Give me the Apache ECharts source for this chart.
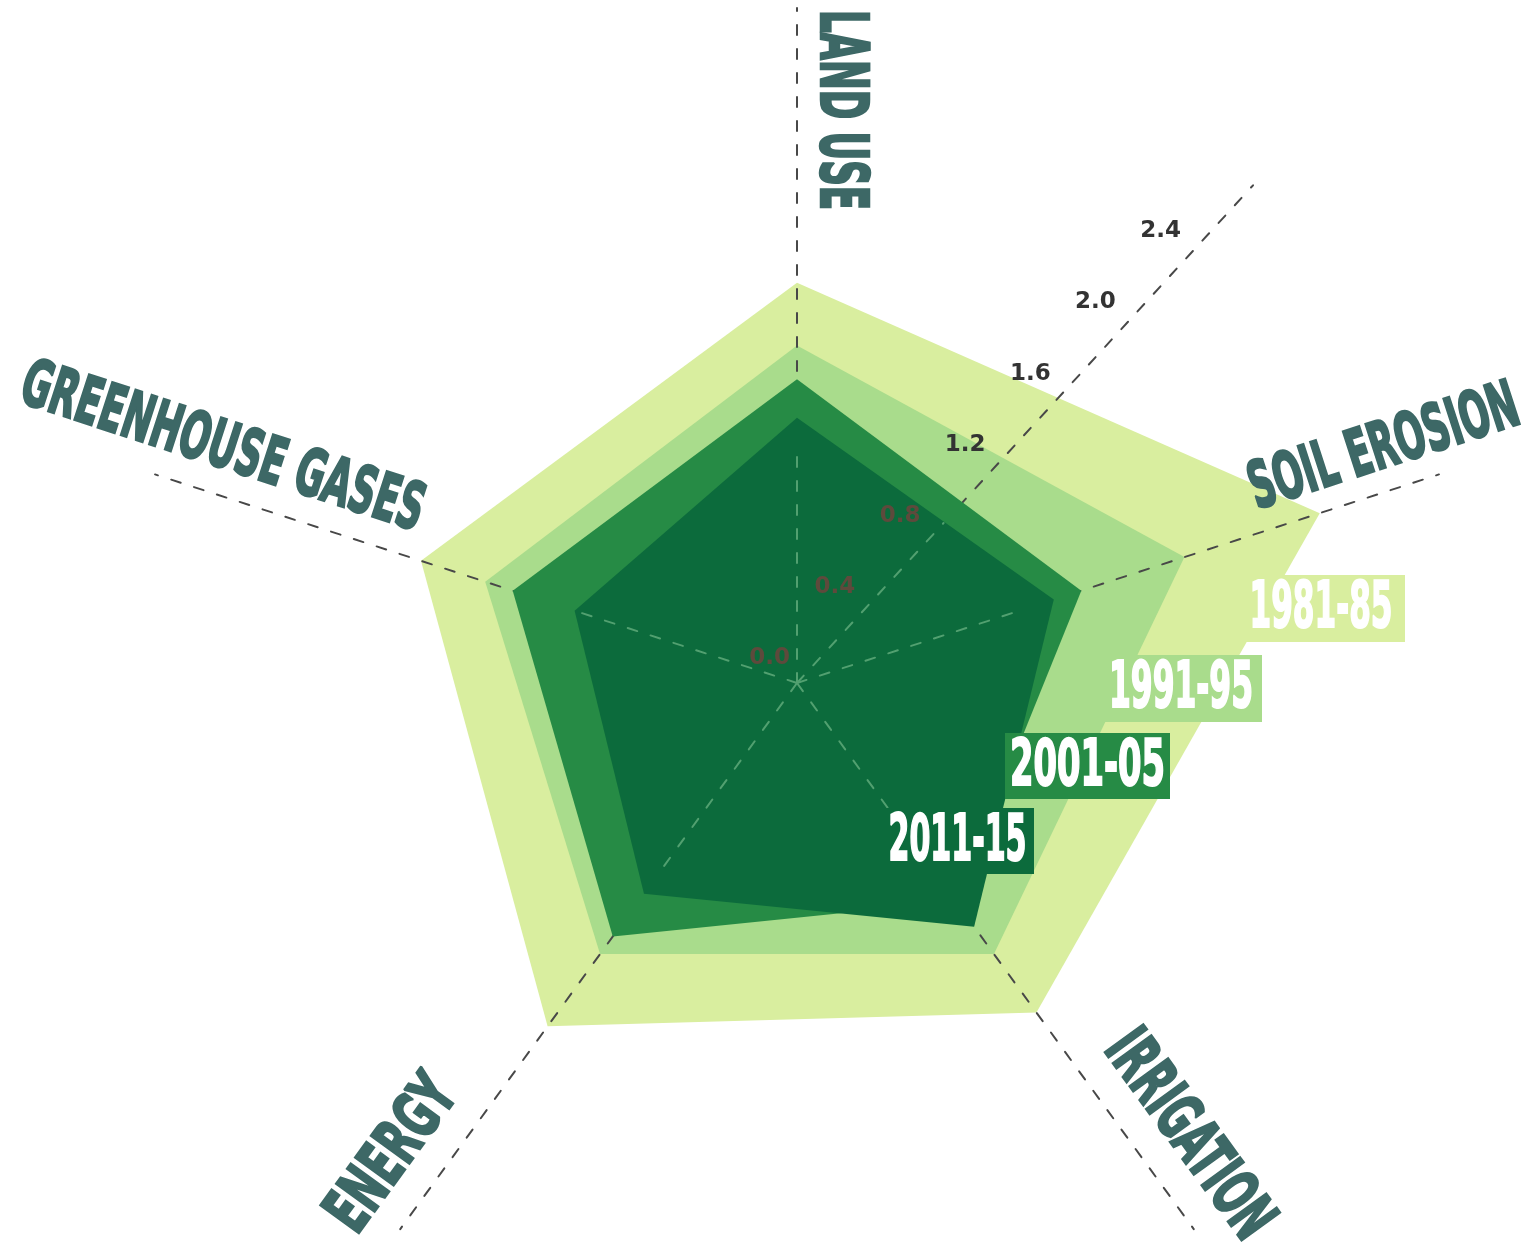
<!DOCTYPE html>
<html><head><meta charset="utf-8">
<script src="https://cdn.jsdelivr.net/npm/echarts/dist/echarts.min.js"></script>
<style>html,body{margin:0;padding:0;background:#fff}#c{width:1522px;height:1249px}</style>
</head><body><div id="c"></div>
<script>
// ---------- data ----------
const categories = ['LAND USE', 'GREENHOUSE GASES', 'ENERGY', 'IRRIGATION', 'SOIL EROSION'];
const periods = ['1981-85', '1991-95', '2001-05', '2011-15'];
const v1981 = [1.66, 1.64, 1.76, 1.69, 2.28];
const v1991 = [1.40, 1.36, 1.39, 1.39, 1.69];
const v2001 = [1.26, 1.24, 1.30, 1.12, 1.24];
const v2011 = [1.10, 0.97, 1.08, 1.25, 1.12];
const scaleTicks = ['0.0', '0.4', '0.8', '1.2', '1.6', '2.0', '2.4'];
const scaleMax = 2.8;

// ---------- layout / style ----------
const CX = 797, CY = 683, R = 675;
const colors = ['#d9ee9f', '#a9dc8c', '#268b45', '#0c6b3c'];
const seriesZ = [1, 2, 4, 5];
const INNER_RADAR = 0.95, INNER_POLAR = 0.9;
const NAME_FONT_FAMILY = "'Liberation Sans Narrow','DejaVu Sans Condensed','DejaVu Sans',sans-serif";
const nameAlong = [573, 619, 619, 596, 631];
const namePerp = [-41, -44, -48, 49, 40];
const nameRot = [-90, -18, 54, -54, 18];
const nameLen = [200, 420, 175, 240, 280];
const nameCap = 47;
const legendBoxes = [[1237, 575, 168, 67], [1100, 655, 162, 67], [1005, 733, 165, 66], [881, 808, 153, 66]];
const legendTextW = [143, 144, 155, 138];
const legendCap = 46;

const mctx = document.createElement('canvas').getContext('2d');
function measure(text, font) { mctx.font = font; return mctx.measureText(text).width; }

const dash = { color: '#484848', width: 2, type: [10, 14] };
const lightDash = { color: '#52a070', width: 2, type: [10, 14] };

const indicatorsOuter = categories.map(n => ({ name: n, min: 0, max: scaleMax }));
const indicatorsInner = categories.map(n => ({ name: n, min: 0, max: INNER_RADAR }));

function radarComp(radius, ind, line, z) {
  return {
    center: [CX, CY], radius: radius, startAngle: 90, indicator: ind, z: z,
    splitNumber: 1, axisName: { show: false },
    splitLine: { show: false }, splitArea: { show: false },
    axisTick: { show: false }, axisLabel: { show: false },
    axisLine: { lineStyle: line }
  };
}

const tickFmt = v => { const s = Number(v).toFixed(1); return scaleTicks.indexOf(s) >= 0 ? s : ''; };

const seriesVals = [v1981, v1991, v2001, v2011];
const series = periods.map((p, i) => ({
  type: 'radar', radarIndex: 0, name: p, z: seriesZ[i], symbol: 'none',
  lineStyle: { width: 0 },
  itemStyle: { color: colors[i] },
  areaStyle: { color: colors[i], opacity: 1 },
  data: [{ value: seriesVals[i], name: p }]
}));

// axis names
const graphics = [];
categories.forEach((name, i) => {
  const th = (90 + i * 72) * Math.PI / 180;
  const ux = Math.cos(th), uy = -Math.sin(th);
  const nx = -Math.sin(th), ny = -Math.cos(th);
  const x = CX + ux * nameAlong[i] + nx * namePerp[i];
  const y = CY + uy * nameAlong[i] + ny * namePerp[i];
  const fs = Math.round(nameCap / 0.72);
  const font = 'bold ' + fs + 'px ' + NAME_FONT_FAMILY;
  const w = measure(name, font);
  graphics.push({
    type: 'text', x: x, y: y, rotation: nameRot[i] * Math.PI / 180,
    scaleX: nameLen[i] / w, z: 100,
    style: { text: name, font: font, fill: '#3d6866', stroke: '#3d6866', lineWidth: 2.5,
             align: 'center', verticalAlign: 'middle',
             textAlign: 'center', textVerticalAlign: 'middle' }
  });
});
// legend boxes
periods.forEach((p, i) => {
  const b = legendBoxes[i];
  graphics.push({ type: 'rect', z: 100, shape: { x: b[0], y: b[1], width: b[2], height: b[3] },
                  style: { fill: colors[i] } });
  const fs = Math.round(legendCap / 0.72);
  const font = 'bold ' + fs + 'px ' + NAME_FONT_FAMILY;
  const w = measure(p, font);
  graphics.push({
    type: 'text', z: 101, x: b[0] + b[2] / 2, y: b[1] + b[3] / 2 + 2, scaleX: legendTextW[i] / w,
    style: { text: p, font: font, fill: '#ffffff', stroke: '#ffffff', lineWidth: 2,
             align: 'center', verticalAlign: 'middle',
             textAlign: 'center', textVerticalAlign: 'middle' }
  });
});

const labelBase = { fontFamily: "'DejaVu Sans',sans-serif", fontWeight: 'bold', fontSize: 23,
                    align: 'center', verticalAlign: 'middle', formatter: tickFmt };

const option = {
  backgroundColor: '#ffffff',
  animation: false,
  radar: [
    radarComp(R, indicatorsOuter, dash, 3),
    radarComp(R * INNER_RADAR / scaleMax, indicatorsInner, lightDash, 6)
  ],
  polar: [
    { center: [CX, CY], radius: R },
    { center: [CX, CY], radius: R * INNER_POLAR / scaleMax }
  ],
  angleAxis: [
    { polarIndex: 0, type: 'value', min: 0, max: 360, startAngle: 47.5, show: false },
    { polarIndex: 1, type: 'value', min: 0, max: 360, startAngle: 47.5, show: false }
  ],
  radiusAxis: [
    { polarIndex: 0, type: 'value', min: 0, max: scaleMax, interval: 0.4, z: 3,
      axisLine: { lineStyle: dash }, axisTick: { show: false }, splitLine: { show: false },
      axisLabel: Object.assign({}, labelBase, { color: '#333333', margin: 37 }) },
    { polarIndex: 1, type: 'value', min: 0, max: INNER_POLAR, interval: 0.4, z: 6,
      axisLine: { lineStyle: lightDash }, axisTick: { show: false }, splitLine: { show: false },
      axisLabel: Object.assign({}, labelBase, { color: '#5e4a3c', margin: 37 }) }
  ],
  graphic: { elements: graphics },
  series: series
};

const chart = echarts.init(document.getElementById('c'), null, { renderer: 'canvas' });
chart.setOption(option);
</script>
</body></html>
